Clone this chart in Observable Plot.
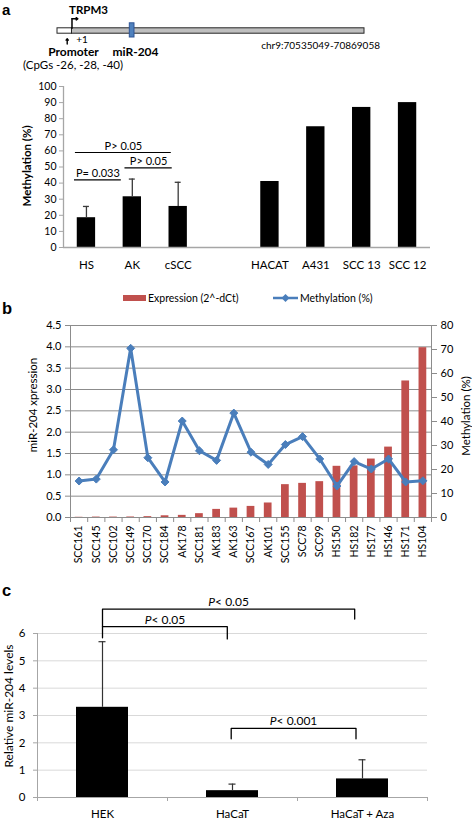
<!DOCTYPE html>
<html>
<head>
<meta charset="utf-8">
<script src="https://cdn.jsdelivr.net/npm/d3@7"></script>
<script src="https://cdn.jsdelivr.net/npm/@observablehq/plot@0.6"></script>
<style>
html,body{margin:0;padding:0;background:#fff}
#root{position:relative;width:472px;height:820px;overflow:hidden;font-family:Lato,"Open Sans",sans-serif;color:#000}
.abs{position:absolute;left:0}
.plbl{position:absolute;font-family:"Liberation Sans",Arial,sans-serif;font-weight:bold;font-size:16.5px;line-height:0.6}
.ytitle{position:absolute;white-space:nowrap;transform:translate(-50%,-50%) rotate(-90deg);line-height:1;font-family:Lato,sans-serif}
</style>
</head>
<body>
<div id="root"></div>
<script>
// ===================== DATA =====================
// Panel a – gene schematic (relative position along TRPM3 locus, 0–100)
const schemSegments = ["Promoter", "TRPM3"];
const schemSegStart = [0, 4.72];
const schemSegEnd = [4.72, 100];
const mirName = "miR-204";
const mirStart = 23.55;
const mirEnd = 25.08;
const tssPos = 4.72;
const cpgPos = 3.16;
const geneName = "TRPM3";
const locusLabel = "chr9:70535049-70869058";
const promoterLabel = "Promoter";
const cpgLabel = "(CpGs -26, -28, -40)";
const tssLabel = "+1";

// Panel a – methylation bar chart
const aCategories = ["HS", "AK", "cSCC", "", "HACAT", "A431", "SCC 13", "SCC 12"];
const aBarCats = ["HS", "AK", "cSCC", "HACAT", "A431", "SCC 13", "SCC 12"];
const aMethylation = [18.5, 31.5, 25.5, 41, 75, 87, 90];
const aErrCats = ["HS", "AK", "cSCC"];
const aErrSD = [7, 11, 15];
const aYTicks = [0, 10, 20, 30, 40, 50, 60, 70, 80, 90, 100];
const aSigLabels = ["P= 0.033", "P> 0.05", "P> 0.05"];
const aSigX1 = [-0.26, 0.84, -0.24];
const aSigX2 = [0.76, 1.87, 1.85];
const aSigY = [42, 49.5, 59];

// Panel b – expression vs methylation
const bSamples = ["SCC161","SCC145","SCC102","SCC149","SCC170","SCC184","AK178","SCC181","AK183","AK163","SCC167","AK101","SCC155","SCC78","SCC99","HS150","HS182","HS177","HS146","HS171","HS104"];
const bExpression = [0.005, 0.01, 0.01, 0.012, 0.02, 0.04, 0.05, 0.09, 0.19, 0.22, 0.26, 0.34, 0.77, 0.80, 0.84, 1.20, 1.21, 1.37, 1.65, 3.20, 3.98];
const bMethylation = [15.2, 16.0, 28.2, 70.5, 24.9, 14.8, 40.2, 27.8, 23.8, 43.5, 27.2, 22.1, 30.4, 33.7, 24.4, 13.1, 23.3, 20.2, 24.4, 14.8, 15.3];
const bLeftTicks = [0, 0.5, 1, 1.5, 2, 2.5, 3, 3.5, 4, 4.5];
const bRightTicks = [0, 10, 20, 30, 40, 50, 60, 70, 80];
const bLeftMax = 4.5;
const bRightMax = 80;
const bLegend = ["Expression (2^-dCt)", "Methylation (%)"];

// Panel c – relative miR-204 levels
const cCategories = ["HEK", "HaCaT", "HaCaT + Aza"];
const cLevels = [3.3, 0.25, 0.68];
const cErr = [2.4, 0.24, 0.7];
const cYTicks = [0, 1, 2, 3, 4, 5, 6];
const cBrLabels = ["P< 0.05", "P< 0.05", "P< 0.001"];
const cBrX1 = [0, 0, 0.99];
const cBrX2 = [0.96, 1.94, 1.95];
const cBrTop = [6.25, 6.89, 2.53];
const cBrLeftEnd = [5.84, 6.25, 2.15];
const cBrRightEnd = [5.8, 6.53, 2.15];

// ===================== RENDER =====================
const root = document.getElementById("root");
function place(node, top) {
  const wrap = document.createElement("div");
  wrap.className = "abs";
  wrap.style.top = top + "px";
  wrap.appendChild(node);
  root.appendChild(wrap);
  return node;
}
function htmlText(txt, cls, css) {
  const d = document.createElement("div");
  d.className = cls;
  d.textContent = txt;
  Object.assign(d.style, css);
  root.appendChild(d);
  return d;
}
const baseStyle = {fontFamily: "Lato, 'Open Sans', sans-serif", background: "transparent", overflow: "visible", color: "#000"};

// ---- Panel a schematic ----
const segs = schemSegments.map((s, i) => ({s, x1: schemSegStart[i], x2: schemSegEnd[i]}));
const schem = Plot.plot({
  width: 472, height: 75, marginLeft: 57, marginRight: 108, marginTop: 0, marginBottom: 0,
  x: {domain: [0, 100], axis: null},
  y: {domain: [0, 75], range: [0, 75], axis: null},
  style: baseStyle,
  marks: [
    Plot.rect(segs, {x1: "x1", x2: "x2", y1: 27.8, y2: 33.2, fill: d => d.s === "Promoter" ? "#ffffff" : "#BFBFBF", stroke: "#262626", strokeWidth: 1}),
    Plot.rect([mirName], {x1: mirStart, x2: mirEnd, y1: 22.8, y2: 37, fill: "#4F81BD", stroke: "#2F5597", strokeWidth: 1}),
    Plot.line([[tssPos, 27.8], [tssPos, 18.3]], {x: d => d[0], y: d => d[1], stroke: "#000", strokeWidth: 1.5}),
    Plot.arrow([tssPos], {x1: d => d, x2: d => d + 1.9, y1: 18.3, y2: 18.3, stroke: "#000", strokeWidth: 1.5, headLength: 4, headAngle: 70}),
    Plot.arrow([cpgPos], {x1: d => d, x2: d => d, y1: 43.5, y2: 38.3, stroke: "#000", strokeWidth: 1.4, headLength: 4, headAngle: 80}),
    Plot.text([geneName], {x: 10.1, y: 9.6, text: d => d, fontWeight: "bold", fontSize: 11.5}),
    Plot.text([tssLabel], {x: 8.0, y: 38.8, text: d => d, fontSize: 10}),
    Plot.text([promoterLabel], {x: 5.2, y: 51.5, text: d => d, fontWeight: "bold", fontSize: 12}),
    Plot.text([mirName], {x: 25.4, y: 51.5, text: d => d, fontWeight: "bold", fontSize: 12}),
    Plot.text([cpgLabel], {x: 5.05, y: 65, text: d => d, fontSize: 11.5}),
    Plot.text([locusLabel], {x: 85.7, y: 45, text: d => d, fontSize: 10})
  ]
});
place(schem, 0);

// ---- Panel a chart ----
const aIdx = c => aCategories.indexOf(c);
const aBars = aBarCats.map((c, i) => ({i: aIdx(c), v: aMethylation[i]}));
const aErrs = aErrCats.map((c, i) => {
  const v = aMethylation[aBarCats.indexOf(c)];
  return {i: aIdx(c), lo: v, hi: v + aErrSD[i]};
});
const aSig = aSigLabels.map((l, i) => ({l, x1: aSigX1[i], x2: aSigX2[i], y: aSigY[i]}));
const chartA = Plot.plot({
  width: 472, height: 200, marginLeft: 63, marginRight: 42, marginTop: 11, marginBottom: 28,
  x: {domain: [-0.5, 7.5]},
  y: {domain: [0, 100]},
  style: {...baseStyle, fontSize: "10.5px"},
  marks: [
    Plot.rect(aBars, {x1: d => d.i - 0.2, x2: d => d.i + 0.2, y1: 0, y2: "v", fill: "#000"}),
    Plot.ruleX(aErrs, {x: "i", y1: "lo", y2: "hi", stroke: "#3a3a3a", strokeWidth: 1.3}),
    Plot.ruleY(aErrs, {y: "hi", x1: d => d.i - 0.065, x2: d => d.i + 0.065, stroke: "#3a3a3a", strokeWidth: 1.3}),
    Plot.ruleY([0], {stroke: "#a6a6a6", strokeWidth: 1.3}),
    Plot.ruleX([-0.5], {y1: 0, y2: 100, stroke: "#a6a6a6", strokeWidth: 1.3}),
    Plot.axisY({ticks: aYTicks, tickFormat: d3.format("d"), tickSize: 4, tickPadding: 3, stroke: "#a6a6a6", label: null, fontSize: 10.5}),
    Plot.axisX({ticks: aCategories.map((c, i) => c ? i : null).filter(i => i !== null), tickFormat: i => aCategories[i], tickSize: 0, tickPadding: 13, label: null, fontSize: 11.5}),
    Plot.ruleY(aSig, {y: "y", x1: "x1", x2: "x2", stroke: "#000", strokeWidth: 1.2}),
    Plot.text(aSig, {x: d => (d.x1 + d.x2) / 2, y: "y", text: "l", dy: -6, fontSize: 11})
  ]
});
place(chartA, 75);
htmlText("Methylation (%)", "ytitle", {left: "27px", top: "166px", fontWeight: "bold", fontSize: "11.5px"});

// ---- Panel b chart ----
const scaleM = m => m * bLeftMax / bRightMax;
const bRows = bSamples.map((s, i) => ({i, s, e: bExpression[i], my: scaleM(bMethylation[i])}));
const n = bSamples.length;
const chartB = Plot.plot({
  width: 472, height: 253, marginLeft: 70, marginRight: 41, marginTop: 13, marginBottom: 48,
  x: {domain: [-0.5, n - 0.5]},
  y: {domain: [0, bLeftMax]},
  style: {...baseStyle, fontSize: "11px"},
  marks: [
    Plot.ruleY(bLeftTicks.filter(t => t > 0), {stroke: "#8c8c8c", strokeWidth: 1}),
    Plot.rect(bRows, {x1: d => d.i - 0.225, x2: d => d.i + 0.225, y1: 0, y2: "e", fill: "#C0504D"}),
    Plot.frame({stroke: "#8c8c8c"}),
    Plot.axisY({anchor: "left", ticks: bLeftTicks, tickFormat: d3.format(".1f"), tickSize: 5, tickPadding: 4, stroke: "#8c8c8c", label: null, fontSize: 11}),
    Plot.axisY({anchor: "right", ticks: bRightTicks.map(scaleM), tickFormat: v => Math.round(v * bRightMax / bLeftMax), tickSize: 5, tickPadding: 4, stroke: "#8c8c8c", label: null, fontSize: 11}),
    Plot.axisX({ticks: d3.range(n + 1).map(k => k - 0.5), tickFormat: () => "", tickSize: 5, stroke: "#8c8c8c", label: null}),
    Plot.axisX({ticks: d3.range(n), tickFormat: k => bSamples[k], tickSize: 0, tickPadding: 8, tickRotate: -90, label: null, fontSize: 10.5}),
    Plot.line(bRows, {x: "i", y: "my", stroke: "#4A7EBB", strokeWidth: 3, curve: "linear"}),
    Plot.dot(bRows, {x: "i", y: "my", symbol: "diamond2", r: 3.6, fill: "#4A7EBB", stroke: "#4A7EBB", strokeWidth: 1})
  ]
});
place(chartB, 312);
htmlText("miR-204 xpression", "ytitle", {left: "33px", top: "405px", fontSize: "11.5px"});
htmlText("Methylation (%)", "ytitle", {left: "466px", top: "416px", fontSize: "11.5px"});

// legend for panel b
(function () {
  const svg = d3.create("svg").attr("width", 472).attr("height", 16)
    .style("font-family", "Lato, 'Open Sans', sans-serif").style("font-size", "10.5px");
  svg.append("rect").attr("x", 123).attr("y", 5).attr("width", 23).attr("height", 6).attr("fill", "#C0504D");
  svg.append("text").attr("x", 148).attr("y", 8).attr("dy", "0.35em").text(bLegend[0]);
  svg.append("line").attr("x1", 273).attr("x2", 298).attr("y1", 8).attr("y2", 8).attr("stroke", "#4A7EBB").attr("stroke-width", 2.5);
  svg.append("path").attr("d", d3.symbol(d3.symbolDiamond2, 40)()).attr("transform", "translate(285.5,8)").attr("fill", "#4A7EBB");
  svg.append("text").attr("x", 300).attr("y", 8).attr("dy", "0.35em").text(bLegend[1]);
  place(svg.node(), 290);
})();

// ---- Panel c chart ----
const cRows = cCategories.map((c, i) => ({i, c, v: cLevels[i], hi: cLevels[i] + cErr[i]}));
const cBr = cBrLabels.map((l, i) => ({l, k: i, x1: cBrX1[i], x2: cBrX2[i], top: cBrTop[i], le: cBrLeftEnd[i], re: cBrRightEnd[i]}));
const cBrPts = cBr.flatMap(b => [
  {k: b.k, x: b.x1, y: b.le}, {k: b.k, x: b.x1, y: b.top}, {k: b.k, x: b.x2, y: b.top}, {k: b.k, x: b.x2, y: b.re}
]);
const chartC = Plot.plot({
  width: 472, height: 230, marginLeft: 37, marginRight: 45, marginTop: 43, marginBottom: 23,
  x: {domain: [-0.5, 2.5]},
  y: {domain: [0, 6]},
  style: {...baseStyle, fontSize: "11px"},
  marks: [
    Plot.ruleY(cYTicks.filter(t => t > 0), {stroke: "#d9d9d9", strokeWidth: 1}),
    Plot.rect(cRows, {x1: d => d.i - 0.2, x2: d => d.i + 0.2, y1: 0, y2: "v", fill: "#000"}),
    Plot.ruleX(cRows, {x: "i", y1: "v", y2: "hi", stroke: "#333", strokeWidth: 1.2}),
    Plot.ruleY(cRows, {y: "hi", x1: d => d.i - 0.027, x2: d => d.i + 0.027, stroke: "#333", strokeWidth: 1.2}),
    Plot.ruleY([0], {stroke: "#a6a6a6", strokeWidth: 1.2}),
    Plot.ruleX([-0.5], {y1: 0, y2: 6, stroke: "#a6a6a6", strokeWidth: 1}),
    Plot.axisY({ticks: cYTicks, tickFormat: d3.format("d"), tickSize: 4, tickPadding: 8, stroke: "#a6a6a6", label: null, fontSize: 11.5}),
    Plot.axisX({ticks: [-0.5, 0.5, 1.5, 2.5], tickFormat: () => "", tickSize: 4, stroke: "#a6a6a6", label: null}),
    Plot.axisX({ticks: [0, 1, 2], tickFormat: k => cCategories[k], tickSize: 0, tickPadding: 12, label: null, fontSize: 11.5}),
    Plot.line(cBrPts, {x: "x", y: "y", z: "k", stroke: "#000", strokeWidth: 1.3}),
    Plot.text(cBr, {x: d => (d.x1 + d.x2) / 2, y: "top", text: "l", dy: -7, fontSize: 12})
  ]
});
// italic "P" in significance labels
d3.select(chartC).selectAll("text").each(function () {
  const t = this.textContent;
  if (/^P</.test(t) && this.childElementCount === 0) {
    const sel = d3.select(this);
    sel.text("");
    sel.append("tspan").attr("font-style", "italic").text("P");
    sel.append("tspan").text(t.slice(1));
  }
});
place(chartC, 590);
htmlText("Relative miR-204 levels", "ytitle", {left: "9px", top: "706px", fontSize: "12px"});

// ---- panel letters ----
htmlText("a", "plbl", {left: "2px", top: "4.5px", fontSize: "15px"});
htmlText("b", "plbl", {left: "2px", top: "304px"});
htmlText("c", "plbl", {left: "2px", top: "586px"});
</script>
</body>
</html>
